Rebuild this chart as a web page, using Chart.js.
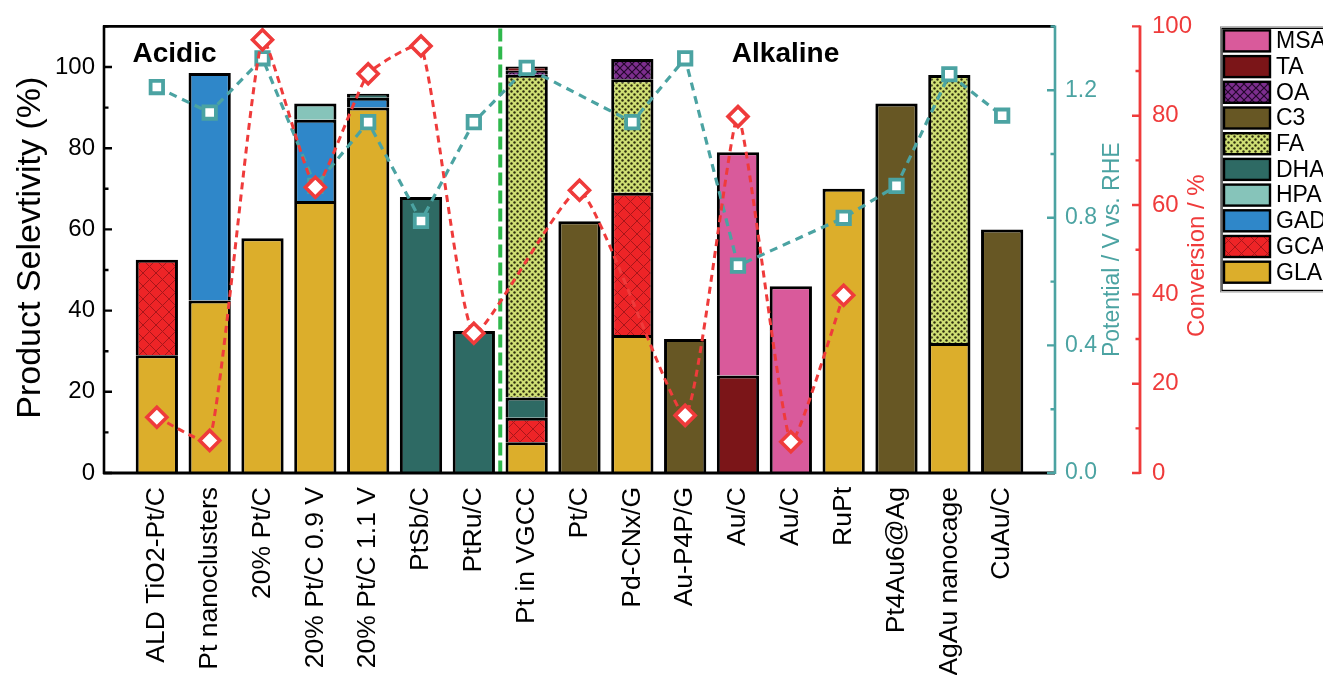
<!DOCTYPE html>
<html>
<head>
<meta charset="utf-8">
<script src="https://cdn.jsdelivr.net/npm/chart.js@4.4.1/dist/chart.umd.min.js"></script>
<style>
  html, body { margin: 0; padding: 0; background: #ffffff; }
  #wrap { width: 1323px; height: 675px; }
</style>
</head>
<body>
<div id="wrap"><canvas id="c" width="1323" height="675"></canvas></div>
<script>
// ---- data ---------------------------------------------------------------
const categories = ['ALD TiO2-Pt/C', 'Pt nanoclusters', '20% Pt/C', '20% Pt/C 0.9 V', '20% Pt/C 1.1 V',
  'PtSb/C', 'PtRu/C', 'Pt in VGCC', 'Pt/C', 'Pd-CNx/G', 'Au-P4P/G', 'Au/C', 'Au/C', 'RuPt',
  'Pt4Au6@Ag', 'AgAu nanocage', 'CuAu/C'];

// product selectivity (%), stacked from GLA (bottom) upwards
const GLA = [29, 42.5, 57.8, 67, 90, null, null, 7.6, null, 34, null, null, null, 70, null, 32, null];
const GCA = [23.5, null, null, null, null, null, null, 6, null, 35, null, null, null, null, null, null, null];
const GAD = [null, 56, null, 20, 2.4, null, null, null, null, null, null, null, null, null, null, null, null];
const HPA = [null, null, null, 4, null, null, null, null, null, null, null, null, null, null, null, null, null];
const DHA = [null, null, null, null, 1, 68, 35, 5, null, null, null, null, null, null, null, null, null];
const FA  = [null, null, null, null, null, null, null, 79.5, null, 28, null, null, null, null, null, 66, null];
const C3  = [null, null, null, null, null, null, null, null, 62, null, 33, null, null, null, 91, null, 60];
const OA  = [null, null, null, null, null, null, null, 1, null, 5, null, null, null, null, null, null, null];
const TA  = [null, null, null, null, null, null, null, 1, null, null, null, 24, null, null, null, null, null];
const MSA = [null, null, null, null, null, null, null, null, null, null, null, 55, 46, null, null, null, null];

// applied potential (V vs. RHE) and conversion (%)
const potential  = [1.21, 1.13, 1.30, 0.90, 1.10, 0.79, 1.10, 1.27, null, 1.10, 1.30, 0.65, null, 0.80, 0.90, 1.25, 1.12];
const conversion = [12.5, 7.3, 97, 64, 89.4, 95.6, 31.3, null, 63.3, null, 12.9, 79.8, 7, 39.8, null, null, null];

// axis ticks
const selTicks = [0, 20, 40, 60, 80, 100];
const potTicks = [0, 0.4, 0.8, 1.2];
const potTickLabels = ['0.0', '0.4', '0.8', '1.2'];
const convTicks = [0, 20, 40, 60, 80, 100];

const ACID_ALKALI_DIVIDER = 6.5;   // between PtRu/C and Pt in VGCC

// ---- styling -------------------------------------------------------------
const FONT = "'Liberation Sans', Arial, Helvetica, sans-serif";
const TEAL = '#4ba3a2';
const RED = '#ef3b3b';
const GREEN = '#2fb84c';

const scratch = document.createElement('canvas').getContext('2d');
function hatch(base, line, step, lw) {
  const c = document.createElement('canvas');
  c.width = c.height = step;
  const g = c.getContext('2d');
  g.fillStyle = base; g.fillRect(0, 0, step, step);
  g.strokeStyle = line; g.lineWidth = lw;
  g.beginPath();
  g.moveTo(-1, -1); g.lineTo(step + 1, step + 1);
  g.moveTo(step + 1, -1); g.lineTo(-1, step + 1);
  g.stroke();
  return scratch.createPattern(c, 'repeat');
}
function dots(base, dot, step, r) {
  const c = document.createElement('canvas');
  c.width = c.height = step;
  const g = c.getContext('2d');
  g.fillStyle = base; g.fillRect(0, 0, step, step);
  g.fillStyle = dot;
  [[step / 4, step / 4], [3 * step / 4, 3 * step / 4]].forEach(([x, y]) => {
    g.beginPath(); g.arc(x, y, r, 0, Math.PI * 2); g.fill();
  });
  return scratch.createPattern(c, 'repeat');
}

const fills = {
  GLA: '#dcae2b',
  GCA: hatch('#ee2427', '#a8161a', 13, 1),
  GAD: '#2f87c9',
  HPA: '#86c4ba',
  DHA: '#2e6a64',
  FA: dots('#cfdf74', '#2c2c0c', 6, 1.2),
  C3: '#675724',
  OA: hatch('#7d2e8e', '#22082a', 8, 1.2),
  TA: '#7b1518',
  MSA: '#d95a9b'
};

const pts = arr => arr.map((v, i) => ({ x: i, y: v }));
const barSet = (label, arr) => ({
  type: 'bar', label, data: pts(arr), backgroundColor: fills[label],
  borderColor: '#000', borderWidth: 3, barPercentage: 0.8, categoryPercentage: 1.0,
  yAxisID: 'y', order: 2
});

const datasets = [
  barSet('GLA', GLA), barSet('GCA', GCA), barSet('GAD', GAD), barSet('HPA', HPA), barSet('DHA', DHA),
  barSet('FA', FA), barSet('C3', C3), barSet('OA', OA), barSet('TA', TA), barSet('MSA', MSA),
  {
    type: 'line', label: 'Potential', data: pts(potential), yAxisID: 'yPot', order: 1,
    borderColor: TEAL, borderWidth: 3.2, borderDash: [8, 6], tension: 0, spanGaps: true,
    pointStyle: 'rect', pointRadius: 8.8, pointBorderWidth: 3.8,
    pointBackgroundColor: '#fff', pointBorderColor: TEAL
  },
  {
    type: 'line', label: 'Conversion', data: pts(conversion), yAxisID: 'yConv', order: 0,
    borderColor: RED, borderWidth: 3, borderDash: [7, 5], tension: 0.15, spanGaps: true,
    pointStyle: 'rectRot', pointRadius: 10, pointBorderWidth: 3.6,
    pointBackgroundColor: '#fff', pointBorderColor: RED
  }
];

// ---- drawing helpers -----------------------------------------------------
function vline(ctx, x, y0, y1, color, w) {
  ctx.beginPath(); ctx.strokeStyle = color; ctx.lineWidth = w;
  ctx.moveTo(x, y0); ctx.lineTo(x, y1); ctx.stroke();
}
function hline(ctx, y, x0, x1, color, w) {
  ctx.beginPath(); ctx.strokeStyle = color; ctx.lineWidth = w;
  ctx.moveTo(x0, y); ctx.lineTo(x1, y); ctx.stroke();
}
// inward ticks: major at the tick values, minor halfway between them
function sideTicks(ctx, scale, x0, dir, values, color) {
  const step = values[1] - values[0];
  const minor = [];
  for (let v = values[0] + step / 2; v < scale.max + 1e-9; v += step) minor.push(v);
  ctx.strokeStyle = color; ctx.lineWidth = 2.4;
  ctx.beginPath();
  values.forEach(v => { const y = scale.getPixelForValue(v); ctx.moveTo(x0, y); ctx.lineTo(x0 + dir * 8, y); });
  minor.forEach(v => { const y = scale.getPixelForValue(v); ctx.moveTo(x0, y); ctx.lineTo(x0 + dir * 4.5, y); });
  ctx.stroke();
}
function rotatedText(ctx, text, x, y, font, color) {
  ctx.save();
  ctx.translate(x, y); ctx.rotate(-Math.PI / 2);
  ctx.font = font; ctx.fillStyle = color; ctx.textAlign = 'center'; ctx.textBaseline = 'middle';
  ctx.fillText(text, 0, 0);
  ctx.restore();
}

const decor = {
  id: 'decor',
  beforeDatasetsDraw(chart) {
    const { ctx, chartArea: a, scales } = chart;
    const gx = scales.x.getPixelForValue(ACID_ALKALI_DIVIDER);
    ctx.save();
    ctx.setLineDash([13, 5]);
    vline(ctx, gx, a.top + 2, a.bottom, GREEN, 4);
    ctx.restore();
  },
  afterDatasetsDraw(chart) {
    const { ctx, chartArea: a, scales } = chart;
    ctx.save();
    ctx.lineCap = 'butt';
    // frame
    hline(ctx, a.top, a.left - 1, a.right, '#000', 2.6);
    hline(ctx, a.bottom, a.left - 1, a.right, '#000', 2.8);
    vline(ctx, a.left, a.top - 1, a.bottom + 1, '#000', 2.6);
    vline(ctx, a.right, a.top - 1, a.bottom + 1, TEAL, 2.6);
    const cx = scales.yConv.left;
    vline(ctx, cx, a.top - 1, a.bottom + 1, RED, 2.8);
    // ticks
    sideTicks(ctx, scales.y, a.left, 1, selTicks, '#000');
    sideTicks(ctx, scales.yPot, a.right, -1, potTicks, TEAL);
    sideTicks(ctx, scales.yConv, cx, -1, convTicks, RED);
    // region labels
    ctx.font = `bold 28px ${FONT}`;
    ctx.fillStyle = '#000';
    ctx.textBaseline = 'alphabetic';
    ctx.textAlign = 'left';
    ctx.fillText('Acidic', scales.x.getPixelForValue(-0.46), a.top + 36);
    ctx.textAlign = 'center';
    ctx.fillText('Alkaline', scales.x.getPixelForValue(11.9), a.top + 36);
    ctx.restore();
  },
  afterDraw(chart) {
    const { ctx, chartArea: a, scales } = chart;
    const midY = (a.top + a.bottom) / 2;
    // axis titles
    rotatedText(ctx, 'Product Selevtivity (%)', 31, midY - 2, `34px ${FONT}`, '#000');
    rotatedText(ctx, 'Potential / V vs. RHE', scales.yPot.left + 58, midY, `23px ${FONT}`, TEAL);
    rotatedText(ctx, 'Conversion / %', scales.yConv.left + 57, midY + 6, `24px ${FONT}`, RED);

    // legend, top entry = top of the stack
    const bars = chart.data.datasets.filter(d => d.type === 'bar').slice().reverse();
    const x0 = scales.yConv.right, y0 = a.top;
    const rowH = 25.7;
    ctx.save();
    ctx.strokeStyle = '#888'; ctx.lineWidth = 1;
    ctx.strokeRect(x0 + 0.5, y0 + 0.5, 200, bars.length * rowH + 8);
    ctx.strokeStyle = '#000'; ctx.lineWidth = 1.2;
    ctx.strokeRect(x0 + 2, y0 + 2, 200, bars.length * rowH + 5);
    bars.forEach((d, i) => {
      const sy = y0 + 4 + i * rowH;
      ctx.fillStyle = d.backgroundColor;
      ctx.fillRect(x0 + 4, sy, 46, 21);
      ctx.strokeStyle = '#000'; ctx.lineWidth = 2.4;
      ctx.strokeRect(x0 + 4, sy, 46, 21);
      ctx.fillStyle = '#000';
      ctx.font = `23px ${FONT}`;
      ctx.textAlign = 'left'; ctx.textBaseline = 'middle';
      ctx.fillText(d.label, x0 + 56, sy + 11.5);
    });
    ctx.restore();
  }
};

new Chart(document.getElementById('c'), {
  data: { datasets },
  options: {
    responsive: false,
    animation: false,
    devicePixelRatio: 1,
    layout: { padding: { top: 23, left: 0, right: 103, bottom: 0 } },
    plugins: { legend: { display: false }, tooltip: { enabled: false } },
    scales: {
      x: {
        type: 'linear', min: -1, max: 17, offset: false, stacked: true,
        grid: { display: false, drawTicks: false }, border: { display: false },
        afterBuildTicks: s => { s.ticks = categories.map((_, i) => ({ value: i })); },
        afterFit: s => { s.height = 202; },
        ticks: {
          autoSkip: false, minRotation: 90, maxRotation: 90, padding: 14,
          color: '#000', font: { size: 26.5, family: FONT },
          callback: v => categories[v] ?? ''
        }
      },
      y: {
        type: 'linear', position: 'left', min: 0, max: 110, stacked: true,
        grid: { display: false, drawTicks: false }, border: { display: false },
        afterBuildTicks: s => { s.ticks = selTicks.map(v => ({ value: v })); },
        afterFit: s => { s.width = 104; },
        ticks: { padding: 9, color: '#000', font: { size: 24, family: FONT }, callback: v => String(v) }
      },
      yPot: {
        type: 'linear', position: 'right', weight: 0, min: 0, max: 1.4,
        grid: { display: false, drawTicks: false }, border: { display: false },
        afterBuildTicks: s => { s.ticks = potTicks.map(v => ({ value: v })); },
        afterFit: s => { s.width = 85; },
        ticks: { padding: 10, color: TEAL, font: { size: 23, family: FONT }, callback: (v, i) => potTickLabels[i] }
      },
      yConv: {
        type: 'linear', position: 'right', weight: 1, min: 0, max: 100,
        grid: { display: false, drawTicks: false }, border: { display: false },
        afterBuildTicks: s => { s.ticks = convTicks.map(v => ({ value: v })); },
        afterFit: s => { s.width = 80; },
        ticks: { padding: 12, color: RED, font: { size: 24, family: FONT }, callback: v => String(v) }
      }
    }
  },
  plugins: [decor]
});
</script>
</body>
</html>
